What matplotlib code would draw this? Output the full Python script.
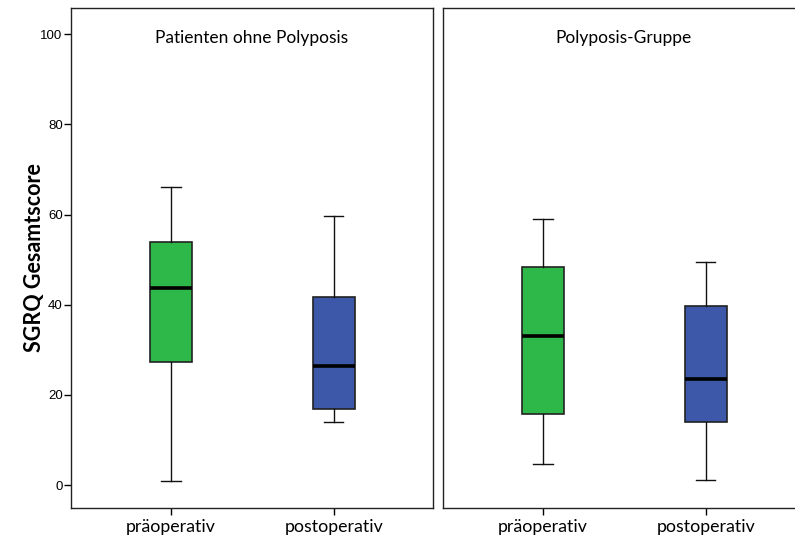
import matplotlib

matplotlib.use("Agg")
import matplotlib.pyplot as plt

# Boxplot summaries (whislo, q1, median, q3, whishi)
groups = ["Patienten ohne Polyposis", "Polyposis-Gruppe"]
labels = ["präoperativ", "postoperativ"]
ohne_pre = [0.8, 27.2, 43.6, 54.0, 66.0]
ohne_post = [13.9, 16.8, 26.4, 41.8, 59.6]
poly_pre = [4.6, 15.7, 33.1, 48.3, 59.0]
poly_post = [1.2, 13.9, 23.5, 39.7, 49.4]
colors = ["#2eb84a", "#3d57a9"]
yticks = [0, 20, 40, 60, 80, 100]


def stats(vals, label):
    lo, q1, med, q3, hi = vals
    return dict(whislo=lo, q1=q1, med=med, q3=q3, whishi=hi, label=label, fliers=[])


fig = plt.figure(figsize=(7.95, 5.42), dpi=100)
ax1 = fig.add_axes([0.0893, 0.0627, 0.4553, 0.9225])
ax2 = fig.add_axes([0.5572, 0.0627, 0.4553, 0.9225])

for ax, title, data in [(ax1, groups[0], [ohne_pre, ohne_post]),
                        (ax2, groups[1], [poly_pre, poly_post])]:
    bp = ax.bxp([stats(d, l) for d, l in zip(data, labels)], positions=[1, 2],
                widths=0.26, patch_artist=True, showfliers=False,
                boxprops=dict(edgecolor="#222222", linewidth=1.2),
                whiskerprops=dict(color="#111111", linewidth=1.0),
                capprops=dict(color="#111111", linewidth=1.0),
                medianprops=dict(color="black", linewidth=2.6),
                capwidths=0.12)
    for patch, c in zip(bp["boxes"], colors):
        patch.set_facecolor(c)
    ax.set_xlim(0.385, 2.61)
    ax.set_ylim(-5.1, 105.8)
    ax.text(0.5, 0.94, title, transform=ax.transAxes, ha="center", va="center",
            fontsize=12.5, family="Lato")
    ax.set_xticks([1, 2])
    ax.set_xticklabels(labels, fontsize=12.8, family="Lato")
    ax.tick_params(axis="x", length=5, width=1, pad=3)
    for s in ax.spines.values():
        s.set_linewidth(1.0)
        s.set_color("#222222")

ax1.set_yticks(yticks)
ax1.set_yticklabels([str(t) for t in yticks], fontsize=9.5, family="Liberation Sans")
ax1.tick_params(axis="y", length=5, width=1, pad=1)
ax1.set_ylabel("SGRQ Gesamtscore", fontsize=15.5, fontweight="bold",
               family="Lato", labelpad=-3)
ax2.set_yticks([])

fig.savefig("out.png", dpi=100)
